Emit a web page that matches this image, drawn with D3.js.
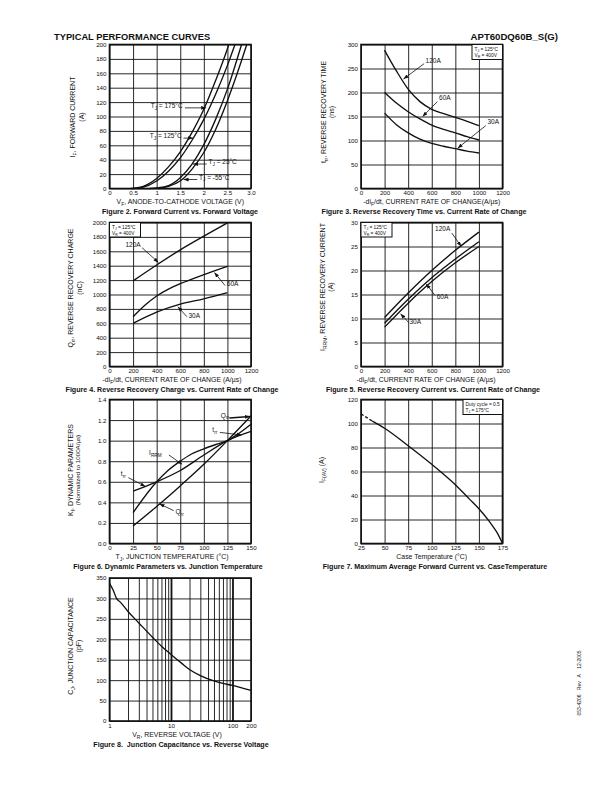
<!DOCTYPE html>
<html><head><meta charset="utf-8">
<script src="https://cdn.jsdelivr.net/npm/d3@7"></script>
<style>body{margin:0;background:#fff}svg{display:block}</style>
</head><body><svg id="chart" width="612" height="792"></svg>
<script>
// ---------------- DATA ----------------
// Figure 2: forward current vs forward voltage
const f2XTicks = [0, 0.5, 1, 1.5, 2, 2.5, 3];
const f2XLabels = ["0", "0.5", "1", "1.5", "2", "2.5", "3.0"];
const f2YTicks = [0, 20, 40, 60, 80, 100, 120, 140, 160, 180, 200];
const f2T175 = [[0.45,0],[0.6,1],[0.8,5.5],[1.0,14],[1.25,30],[1.5,51],[1.75,78],[2.0,110],[2.25,150],[2.5,194],[2.53,200]];
const f2T125 = [[0.5,0],[0.7,1.6],[1.0,10.5],[1.25,24],[1.5,42.5],[1.75,67],[2.0,96],[2.25,131],[2.5,171],[2.66,200]];
const f2T25 = [[0.85,0],[1.0,0.8],[1.25,4],[1.5,15],[1.75,34],[2.0,61],[2.25,96],[2.5,138],[2.8,200]];
const f2Tm55 = [[1.05,0],[1.25,3],[1.54,12.5],[1.75,27],[2.0,50],[2.25,82],[2.5,122],[2.75,168],[2.91,200]];
// Figures 3-5 share the current-rate axis
const rateTicks = [0, 200, 400, 600, 800, 1000, 1200];
// Figure 3: trr (ns)
const f3YTicks = [0, 50, 100, 150, 200, 250, 300];
const f3A120 = [[200,288],[300,245],[400,207],[500,181],[600,165],[700,156],[800,148],[900,140],[1000,131]];
const f3A60 = [[200,200],[300,178],[400,160],[500,145],[600,132],[700,123],[800,116],[900,108],[1000,101]];
const f3A30 = [[200,157],[300,133],[400,116],[500,103],[600,94],[700,88],[800,83],[900,78],[1000,74]];
// Figure 4: Qrr (nC)
const f4YTicks = [0, 200, 400, 600, 800, 1000, 1200, 1400, 1600, 1800, 2000];
const f4A120 = [[200,1190],[400,1410],[600,1620],[800,1810],[1000,1995]];
const f4A60 = [[200,690],[300,850],[400,980],[500,1075],[600,1150],[800,1275],[1000,1390]];
const f4A30 = [[200,600],[400,755],[600,865],[800,940],[1000,1025]];
// Figure 5: IRRM (A)
const f5YTicks = [0, 5, 10, 15, 20, 25, 30];
const f5A120 = [[200,10.2],[400,15.3],[600,20],[800,24.2],[1000,28]];
const f5A60 = [[200,9],[400,14],[600,18.5],[800,22.4],[1000,26]];
const f5A30 = [[200,8.2],[400,13.2],[600,17.7],[800,21.6],[1000,25]];
// Figure 6: dynamic parameters vs Tj
const f6XTicks = [0, 25, 50, 75, 100, 125, 150];
const f6YTicks = [0, 0.2, 0.4, 0.6, 0.8, 1.0, 1.2, 1.4];
const f6YLabels = ["0.0","0.2","0.4","0.6","0.8","1.0","1.2","1.4"];
const f6Qrr = [[25,0.17],[50,0.36],[75,0.56],[100,0.77],[125,1.0],[150,1.24]];
const f6Irrm = [[25,0.30],[50,0.60],[62,0.71],[75,0.80],[87,0.87],[100,0.92],[112,0.96],[125,1.0],[137,1.07],[150,1.16]];
const f6Trr = [[25,0.51],[50,0.60],[75,0.71],[100,0.86],[125,1.0],[150,1.09]];
// Figure 7: max average forward current vs case temperature
const f7XTicks = [25, 50, 75, 100, 125, 150, 175];
const f7YTicks = [0, 20, 40, 60, 80, 100, 120];
const f7Dashed = [[25,108],[37,102]];
const f7Solid = [[37,102],[50,96],[75,81.5],[100,66],[125,49],[140,37],[150,29],[160,19.5],[165,14],[170,8],[175,0]];
// Figure 8: junction capacitance vs reverse voltage (log x)
const f8XGrid = [1,2,3,4,5,6,7,8,9,10,20,30,40,50,60,70,80,90,100,200];
const f8XTicks = [1, 10, 100, 200];
const f8YTicks = [0, 50, 100, 150, 200, 250, 300, 350];
const f8Cj = [[1,337],[1.15,320],[1.3,300],[1.5,291],[2,268],[3,240],[5,205],[7,183],[10,163],[15,141],[20,126],[30,111],[50,98],[70,92],[100,87],[150,80],[200,75]];

// ---------------- DRAWING ----------------
const svg = d3.select("#chart");
const FF = '"Liberation Sans", Arial, Helvetica, sans-serif';
const INK = "#111";

svg.append("defs").append("marker").attr("id","ah")
  .attr("viewBox","0 0 8 6").attr("refX",8).attr("refY",3)
  .attr("markerWidth",5).attr("markerHeight",4).attr("markerUnits","userSpaceOnUse")
  .attr("orient","auto").append("path").attr("d","M0,0L8,3L0,6z").attr("fill",INK);

function rich(t, str, fs) {
  const parts = str.split(/(_\{[^}]*\})/);
  let shift = 0;
  parts.forEach(p => {
    if (!p) return;
    const m = p.match(/^_\{([^}]*)\}$/);
    const s = t.append("tspan");
    if (m) { s.attr("font-size", fs*0.72).attr("dy", fs*0.3 - shift).text(m[1]); shift = fs*0.3; }
    else { s.attr("dy", -shift).text(p); shift = 0; }
  });
}
function txt(parent, x, y, str, o = {}) {
  const fs = o.fs || 6.8;
  const t = parent.append("text").attr("x", x).attr("y", y)
    .attr("font-size", fs).attr("font-family", FF).attr("fill", INK)
    .attr("text-anchor", o.anchor || "start").style("white-space","pre");
  if (o.bold) t.attr("font-weight", "bold");
  if (o.rot) t.attr("transform", `rotate(${o.rot},${x},${y})`);
  rich(t, str, fs);
  return t;
}

function panel(c) {
  const g = svg.append("g");
  const x = (c.log ? d3.scaleLog() : d3.scaleLinear()).domain(c.xd).range([c.L, c.R]);
  const y = d3.scaleLinear().domain(c.yd).range([c.B, c.T]);
  const thick = c.thick || [];
  g.append("g").attr("transform", `translate(0,${c.B})`)
    .call(d3.axisBottom(x).tickValues(c.xg).tickSize(-(c.B - c.T)).tickFormat(""))
    .call(s => { s.select(".domain").remove();
      s.selectAll("line").attr("stroke", INK).attr("stroke-width", d => thick.includes(d) ? 1.8 : 0.9); });
  g.append("g").attr("transform", `translate(${c.L},0)`)
    .call(d3.axisLeft(y).tickValues(c.yg).tickSize(-(c.R - c.L)).tickFormat(""))
    .call(s => { s.select(".domain").remove(); s.selectAll("line").attr("stroke", INK).attr("stroke-width", 0.9); });
  g.append("rect").attr("x", c.L).attr("y", c.T).attr("width", c.R - c.L).attr("height", c.B - c.T)
    .attr("fill", "none").attr("stroke", INK).attr("stroke-width", 1.6);
  const xl = c.xl || c.xt.map(String), yl = c.yl || c.yt.map(String);
  g.append("g").attr("transform", `translate(0,${c.B})`)
    .call(d3.axisBottom(x).tickValues(c.xt).tickFormat((d, i) => xl[i]).tickSize(0).tickPadding(2.5))
    .call(s => { s.select(".domain").remove();
      s.selectAll("text").attr("font-size", 6.2).attr("font-family", FF).attr("fill", INK); });
  g.append("g").attr("transform", `translate(${c.L},0)`)
    .call(d3.axisLeft(y).tickValues(c.yt).tickFormat((d, i) => yl[i]).tickSize(0).tickPadding(3))
    .call(s => { s.select(".domain").remove();
      s.selectAll("text").attr("font-size", 6.2).attr("font-family", FF).attr("fill", INK); });
  const P = { g, x, y, c };
  // axis titles
  const midY = c.ylabY != null ? c.ylabY : (c.T + c.B) / 2;
  txt(g, c.ylabX, midY, c.ylab, { anchor: "middle", rot: -90, fs: 7 });
  if (c.yunit) txt(g, c.yunitX, midY, c.yunit, { anchor: "middle", rot: -90, fs: c.yunitFs || 7 });
  txt(g, c.xlabX != null ? c.xlabX : (c.L + c.R) / 2, c.B + 15.5, c.xlab, { anchor: "middle", fs: 6.9 });
  txt(g, c.capX, c.B + 25.5, c.cap, { anchor: "middle", fs: 7.1, bold: true });
  return P;
}
function curve(P, data, dash) {
  P.g.append("path").datum(data)
    .attr("d", d3.line().x(d => P.x(d[0])).y(d => P.y(d[1])).curve(d3.curveMonotoneX))
    .attr("fill", "none").attr("stroke", INK).attr("stroke-width", 1.35)
    .attr("stroke-dasharray", dash ? "3,2" : null);
}
function note(P, str, at, anchor, from, to, w) {
  txt(P.g, P.x(at[0]), P.y(at[1]), str, { anchor, fs: 6.5 }).attr("dy", "0.35em");
  P.g.append("line").attr("x1", P.x(from[0])).attr("y1", P.y(from[1]))
    .attr("x2", P.x(to[0])).attr("y2", P.y(to[1]))
    .attr("stroke", INK).attr("stroke-width", w || 0.8).attr("marker-end", "url(#ah)");
}
function legend(P, side, w, h, lines) {
  const c = P.c;
  const x0 = side === "right" ? c.R - w : c.L, y0 = c.T;
  P.g.append("rect").attr("x", x0).attr("y", y0).attr("width", w).attr("height", h)
    .attr("fill", "#fff").attr("stroke", INK).attr("stroke-width", 1);
  lines.forEach((s, i) => txt(P.g, x0 + 2.5, y0 + 6 + i * 6, s, { fs: 4.8 }));
}

const LL = 109.5, LR = 251, RL = 361, RR = 502.5;
const rows = [[44.5, 188.5], [222.5, 366.5], [399.5, 543.5], [578, 721]];

// Header
txt(svg, 54, 39.5, "TYPICAL PERFORMANCE CURVES", { fs: 9.3, bold: true });
txt(svg, 558, 39.5, "APT60DQ60B_S(G)", { fs: 9.6, bold: true, anchor: "end" });
// side text
txt(svg, 581, 683, "053-4206   Rev   A    12-2005", { fs: 5, anchor: "middle", rot: -90 });

// Figure 2
const p2 = panel({ L: LL, R: LR, T: rows[0][0], B: rows[0][1], xd: [0, 3], yd: [0, 200],
  xg: f2XTicks, yg: f2YTicks, xt: f2XTicks, xl: f2XLabels, yt: f2YTicks,
  ylab: "I_{F}, FORWARD CURRENT", yunit: "(A)", ylabX: 75, yunitX: 84, ylabY: 117,
  xlab: "V_{F}, ANODE-TO-CATHODE VOLTAGE (V)", cap: "Figure 2. Forward Current vs. Forward Voltage", capX: 180 });
[f2T175, f2T125, f2T25, f2Tm55].forEach(d => curve(p2, d));
note(p2, "T_{J} = 175°C", [1.55, 112], "end", [1.6, 112], [2.05, 112]);
note(p2, "T_{J} = 125°C", [1.53, 70], "end", [1.57, 70], [1.77, 70]);
note(p2, "T_{J} = 25°C", [2.1, 34], "start", [2.06, 34], [1.77, 34]);
note(p2, "T_{J} = -55°C", [1.9, 12.5], "start", [1.86, 12.5], [1.57, 12.5]);

// Figure 3
const p3 = panel({ L: RL, R: RR, T: rows[0][0], B: rows[0][1], xd: [0, 1200], yd: [0, 300],
  xg: rateTicks, yg: f3YTicks, xt: rateTicks, yt: f3YTicks,
  ylab: "t_{rr}, REVERSE RECOVERY TIME", yunit: "(ns)", ylabX: 326, yunitX: 334, ylabY: 112,
  xlab: "-di_{F}/dt, CURRENT RATE OF CHANGE(A/µs)", cap: "Figure 3. Reverse Recovery Time vs. Current Rate of Change", capX: 424 });
[f3A120, f3A60, f3A30].forEach(d => curve(p3, d));
legend(p3, "right", 30.5, 15, ["T_{J} = 125°C", "V_{R} = 400V"]);
note(p3, "120A", [548, 262], "start", [535, 260], [360, 228]);
note(p3, "60A", [662, 184], "start", [648, 181], [522, 150]);
note(p3, "30A", [1072, 134], "start", [1058, 131], [820, 84]);

// Figure 4
const p4 = panel({ L: LL, R: LR, T: rows[1][0], B: rows[1][1], xd: [0, 1200], yd: [0, 2000],
  xg: rateTicks, yg: f4YTicks, xt: rateTicks, yt: f4YTicks,
  ylab: "Q_{rr}, REVERSE RECOVERY CHARGE", yunit: "(nC)", ylabX: 73, yunitX: 81.5, ylabY: 288,
  xlab: "-di_{F}/dt, CURRENT RATE OF CHANGE (A/µs)", xlabX: 172, cap: "Figure 4. Reverse Recovery Charge vs. Current Rate of Change", capX: 172 });
[f4A120, f4A60, f4A30].forEach(d => curve(p4, d));
legend(p4, "left", 31, 14.5, ["T_{J} = 125°C", "V_{R} = 400V"]);
note(p4, "120A", [135, 1659], "start", [276, 1650], [415, 1445]);
note(p4, "60A", [995, 1112], "start", [980, 1125], [890, 1305]);
note(p4, "30A", [670, 678], "start", [656, 692], [580, 830]);

// Figure 5
const p5 = panel({ L: RL, R: RR, T: rows[1][0], B: rows[1][1], xd: [0, 1200], yd: [0, 30],
  xg: rateTicks, yg: f5YTicks, xt: rateTicks, yt: f5YTicks,
  ylab: "I_{RRM}, REVERSE RECOVERY CURRENT", yunit: "(A)", ylabX: 325, yunitX: 333, ylabY: 287,
  xlab: "-di_{F}/dt, CURRENT RATE OF CHANGE (A/µs)", xlabX: 426, cap: "Figure 5. Reverse Recovery Current vs. Current Rate of Change", capX: 433 });
[f5A120, f5A60, f5A30].forEach(d => curve(p5, d));
legend(p5, "left", 31, 14.5, ["T_{J} = 125°C", "V_{R} = 400V"]);
note(p5, "120A", [628, 28.3], "start", [770, 27.8], [850, 25.0]);
note(p5, "60A", [642, 14.1], "start", [628, 14.8], [553, 17.2]);
note(p5, "30A", [411, 8.8], "start", [403, 9.2], [335, 11.0]);

// Figure 6
const p6 = panel({ L: LL, R: LR, T: rows[2][0], B: rows[2][1], xd: [0, 150], yd: [0, 1.4],
  xg: f6XTicks, yg: f6YTicks, xt: f6XTicks, yt: f6YTicks, yl: f6YLabels,
  ylab: "K_{f}, DYNAMIC PARAMETERS", yunit: "(Normalized to 1000A/µs)", yunitFs: 6.2, ylabX: 72.5, yunitX: 80, ylabY: 470,
  xlab: "T_{J}, JUNCTION TEMPERATURE (°C)", xlabX: 172, cap: "Figure 6. Dynamic Parameters vs. Junction Temperature", capX: 168 });
[f6Qrr, f6Irrm, f6Trr].forEach(d => curve(p6, d));
note(p6, "Q_{rr}", [118, 1.225], "start", [127, 1.22], [149, 1.235], 1.5);
note(p6, "t_{rr}", [109, 1.085], "start", [117, 1.08], [140, 1.055]);
note(p6, "I_{RRM}", [42, 0.86], "start", [63, 0.86], [77, 0.77]);
note(p6, "t_{rr}", [12, 0.66], "start", [20, 0.64], [38, 0.555]);
note(p6, "Q_{rr}", [70, 0.29], "start", [68, 0.32], [53, 0.385]);

// Figure 7
const p7 = panel({ L: RL, R: RR, T: rows[2][0], B: rows[2][1], xd: [25, 175], yd: [0, 120],
  xg: f7XTicks, yg: f7YTicks, xt: f7XTicks, yt: f7YTicks,
  ylab: "I_{F(AV)} (A)", ylabX: 324, ylabY: 470,
  xlab: "Case Temperature (°C)", cap: "Figure 7. Maximum Average Forward Current vs. CaseTemperature", capX: 435 });
curve(p7, f7Dashed, true);
curve(p7, f7Solid);
legend(p7, "right", 39.5, 15, ["Duty cycle = 0.5", "T_{J} = 175°C"]);

// Figure 8
const p8 = panel({ L: LL, R: LR, T: rows[3][0], B: rows[3][1], log: true, xd: [1, 200], yd: [0, 350],
  xg: f8XGrid, thick: [10, 100], yg: f8YTicks, xt: f8XTicks, yt: f8YTicks,
  ylab: "C_{J}, JUNCTION CAPACITANCE", yunit: "(pF)", ylabX: 73, yunitX: 81, ylabY: 646,
  xlab: "V_{R}, REVERSE VOLTAGE (V)", xlabX: 177, cap: "Figure 8.  Junction Capacitance vs. Reverse Voltage", capX: 181 });
curve(p8, f8Cj);
</script></body></html>
